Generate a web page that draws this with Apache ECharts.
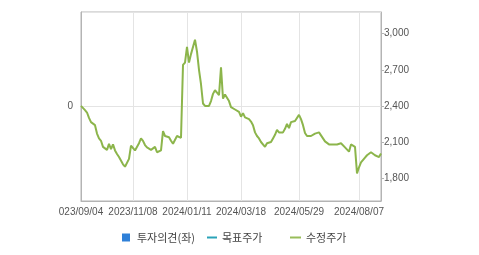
<!DOCTYPE html>
<html><head><meta charset="utf-8">
<script src="https://cdn.jsdelivr.net/npm/echarts@6/dist/echarts.min.js"></script>
<style>html,body{margin:0;padding:0;background:#fff}#c{width:479px;height:255px}</style>
</head><body><div id="c"></div>
<script>
// tick labels on the x axis and the category index where each sits
var tickLabels = ["023/09/04","2023/11/08","2024/01/11","2024/03/18","2024/05/29","2024/08/07"];
var tickIdx = [0,26,53,80,109,139];
var tickDates = ["2023-09-04","2023-11-08","2024-01-11","2024-03-18","2024-05-29","2024-08-07"];
// 수정주가 (adjusted price)
var priceValues = [
2400,2390,2365,2345,2300,2265,2275,2240,2170,2130,
2110,2060,2070,2035,2085,2040,2080,2030,2000,1975,
1960,1915,1895,1905,1960,2070,2065,2030,2045,2090,
2130,2110,2075,2055,2040,2035,2045,2060,2015,2010,
2030,2190,2150,2150,2140,2110,2085,2100,2150,2160,
2135,2740,2760,2890,2760,2830,2820,2950,2850,2700,
2580,2420,2400,2395,2400,2440,2500,2530,2510,2490,
2720,2460,2495,2480,2440,2390,2375,2370,2360,2350,
2310,2340,2305,2300,2290,2270,2240,2180,2150,2130,
2100,2090,2060,2090,2080,2100,2130,2160,2200,2180,
2190,2180,2210,2250,2215,2265,2270,2275,2280,2325,
2290,2240,2175,2150,2140,2150,2165,2170,2165,2180,
2165,2130,2105,2095,2080,2065,2080,2085,2080,2085,
2090,2075,2055,2040,2020,2080,2090,2060,1840,1890,
1930,1935,1970,1990,2000,2015,2005,1990,1980,1975,
2005];
var targetValues = [];
var opinionValues = [];
var rightTicks = [1800,2100,2400,2700,3000];
var leftTicks = [0];

// category dates (between the labelled dates)
var categories = [];
(function(){
  var t = tickDates.map(function(d){return new Date(d+"T00:00:00Z").getTime();});
  for (var i=0;i<priceValues.length;i++){
    var k=0; while(k<tickIdx.length-2 && i>tickIdx[k+1]) k++;
    var a=tickIdx[k], b=tickIdx[k+1];
    var ms = t[k] + (t[k+1]-t[k])*(i-a)/(b-a);
    var d = new Date(Math.round(ms/86400000)*86400000);
    categories.push(d.getUTCFullYear()+"/"+String(d.getUTCMonth()+1).padStart(2,"0")+"/"+String(d.getUTCDate()).padStart(2,"0"));
  }
})();

var axisFont = "'Liberation Sans',Arial,sans-serif";
var krFont = "'Noto Sans CJK KR',sans-serif";
function isTick(i){ return tickIdx.indexOf(i) >= 0; }

var chart = echarts.init(document.getElementById('c'), null, {renderer:'canvas'});
chart.setOption({
  animation:false,
  backgroundColor:'#fff',
  grid:{left:81,right:98,top:12,bottom:54,show:true,borderColor:'#b4b4b4',borderWidth:1,backgroundColor:'transparent'},
  legend:[
    {left:117,top:227,itemWidth:8,itemHeight:8,icon:'rect',data:['투자의견(좌)'],
     textStyle:{fontSize:11,color:'#444',fontFamily:krFont,padding:[0,0,0,2]}},
    {left:202,top:227,itemWidth:10,itemHeight:2,icon:'rect',data:['목표주가'],
     textStyle:{fontSize:11,color:'#444',fontFamily:krFont}},
    {left:285,top:227,itemWidth:11,itemHeight:2,icon:'rect',data:['수정주가'],
     textStyle:{fontSize:11,color:'#444',fontFamily:krFont}}
  ],
  xAxis:{
    type:'category',boundaryGap:false,data:categories,
    axisLine:{onZero:false,lineStyle:{color:'#b4b4b4'}},
    axisTick:{show:true,length:0,interval:function(i){return isTick(i);},lineStyle:{color:'#b4b4b4'}},
    axisLabel:{interval:function(i){return isTick(i);},
      formatter:function(v,i){var k=tickIdx.indexOf(i);return k>=0?tickLabels[k]:'';},
      fontSize:10,color:'#555',fontFamily:axisFont,margin:6},
    splitLine:{show:true,interval:function(i){return isTick(i);},lineStyle:{color:'#e4e4e4',width:1}}
  },
  yAxis:[
    {type:'value',position:'left',min:-1,max:1,interval:1,
     axisLine:{show:true,lineStyle:{color:'#b4b4b4'}},axisTick:{show:false},
     axisLabel:{customValues:leftTicks,fontSize:10,color:'#555',fontFamily:axisFont,margin:8},
     splitLine:{show:true,lineStyle:{color:'#e4e4e4'}}},
    {type:'value',position:'right',min:1610,max:3180,
     axisLine:{show:true,lineStyle:{color:'#b4b4b4'}},
     axisTick:{show:true,length:3,customValues:rightTicks,lineStyle:{color:'#b4b4b4'}},
     axisLabel:{customValues:rightTicks,fontSize:10,color:'#555',fontFamily:axisFont,margin:3,
       formatter:function(v){return v.toLocaleString('en-US');}},
     splitLine:{show:false}}
  ],
  series:[
    {name:'투자의견(좌)',type:'bar',yAxisIndex:0,data:opinionValues,itemStyle:{color:'#2f80d8'}},
    {name:'목표주가',type:'line',yAxisIndex:1,data:targetValues,itemStyle:{color:'#2aa3b8'},lineStyle:{color:'#2aa3b8'}},
    {name:'수정주가',type:'line',yAxisIndex:1,data:priceValues,symbol:'none',
     itemStyle:{color:'#98bd5a'},lineStyle:{color:'#8cb54b',width:2}}
  ]
});
</script></body></html>
